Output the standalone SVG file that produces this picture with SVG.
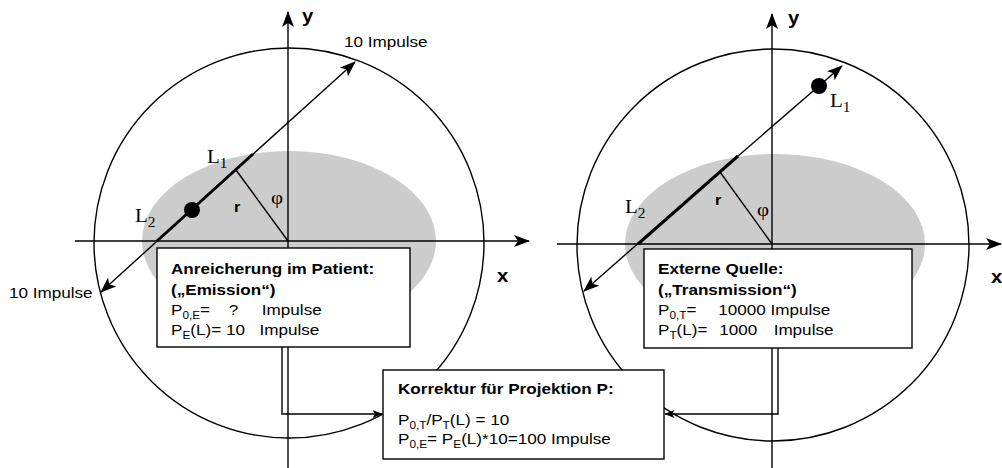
<svg xmlns="http://www.w3.org/2000/svg" width="1002" height="468" viewBox="0 0 1002 468">
<style>
.ln{stroke:#000;stroke-width:1.4;fill:none}
.thick{stroke:#000;stroke-width:3;fill:none}
.body{fill:#cccccc;stroke:none}
.box{fill:#fff;stroke:#000;stroke-width:1.4}
.t{font-family:"Liberation Sans",Arial,sans-serif;font-size:14.5px;fill:#000}
.b{font-weight:bold}
.s{font-size:10px}
.sf{font-family:"Liberation Serif","Times New Roman",serif;font-size:19px;fill:#000}
.ss{font-size:14px}
.ax{font-family:"Liberation Sans",Arial,sans-serif;font-size:18px;font-weight:bold;fill:#000}
</style>
<defs>
<marker id="ah" viewBox="0 0 16 12" refX="15" refY="6" markerWidth="16" markerHeight="12" orient="auto" markerUnits="userSpaceOnUse"><path d="M0,0 L16,6 L0,12 L4,6 z" fill="#000"/></marker>
<marker id="ahs" viewBox="0 0 10 8" refX="9.5" refY="4" markerWidth="10" markerHeight="8" orient="auto" markerUnits="userSpaceOnUse"><path d="M0,0 L10,4 L0,8 L2.5,4 z" fill="#000"/></marker>
</defs>
<rect width="1002" height="468" fill="#fff"/>

<!-- left diagram -->
<g id="left-scene">
<circle class="ln" cx="289" cy="243" r="195"/>
<ellipse class="body" cx="289" cy="241" rx="147" ry="90"/>
<line class="ln" x1="288" y1="468" x2="288" y2="12" marker-end="url(#ah)"/>
<line class="ln" x1="75" y1="241" x2="529" y2="241" marker-end="url(#ah)"/>
<text class="ax" transform="translate(302,22) scale(1.13,1)">y</text>
<text class="ax" transform="translate(497,282) scale(1.13,1)">x</text>
<line class="ln" x1="220" y1="184" x2="355" y2="62" marker-end="url(#ah)"/>
<line class="ln" x1="220" y1="184" x2="101" y2="292" marker-end="url(#ah)"/>
<line class="thick" x1="157" y1="241" x2="253" y2="154"/>
<line class="ln" x1="236" y1="170" x2="288" y2="241"/>
<circle cx="192" cy="210" r="8" fill="#000"/>
<text class="sf" transform="translate(207,163) scale(1.1,1)">L<tspan class="ss" dy="5">1</tspan></text>
<text class="sf" transform="translate(135,222) scale(1.1,1)">L<tspan class="ss" dy="5">2</tspan></text>
<text class="t b" transform="translate(234,212) scale(1.13,1)">r</text>
<text class="sf" transform="translate(271,204) scale(1.1,1)" font-size="16">φ</text>
<text class="t" transform="translate(344,47) scale(1.18,1)">10 Impulse</text>
<text class="t" transform="translate(9,298) scale(1.18,1)">10 Impulse</text>
</g>

<!-- right diagram -->
<g id="right-scene">
<circle class="ln" cx="773" cy="245" r="196"/>
<ellipse class="body" cx="775" cy="244" rx="150" ry="90"/>
<line class="ln" x1="772" y1="468" x2="772" y2="14" marker-end="url(#ah)"/>
<line class="ln" x1="557" y1="244" x2="1001" y2="244" marker-end="url(#ah)"/>
<text class="ax" transform="translate(788,24) scale(1.13,1)">y</text>
<text class="ax" transform="translate(991,283) scale(1.13,1)">x</text>
<line class="ln" x1="700" y1="189" x2="842" y2="66" marker-end="url(#ah)"/>
<line class="ln" x1="700" y1="189" x2="584" y2="291" marker-end="url(#ah)"/>
<line class="thick" x1="638" y1="244" x2="738" y2="156"/>
<line class="ln" x1="720" y1="172" x2="772" y2="244"/>
<circle cx="819" cy="86" r="8" fill="#000"/>
<text class="sf" transform="translate(830,107) scale(1.1,1)">L<tspan class="ss" dy="5">1</tspan></text>
<text class="sf" transform="translate(625,213) scale(1.1,1)">L<tspan class="ss" dy="5">2</tspan></text>
<text class="t b" transform="translate(715,205) scale(1.13,1)">r</text>
<text class="sf" transform="translate(757,216) scale(1.1,1)" font-size="16">φ</text>
</g>

<!-- nodes -->
<g id="node-emission">
<rect class="box" x="157" y="248" width="253" height="99"/>
<text class="t b" transform="translate(171,274) scale(1.18,1)">Anreicherung im Patient:</text>
<text class="t b" transform="translate(171,295) scale(1.18,1)">(„Emission“)</text>
<text class="t" transform="translate(171,315) scale(1.18,1)">P<tspan class="s" dy="4">0,E</tspan><tspan dy="-4">=</tspan><tspan x="49">?</tspan><tspan x="77">Impulse</tspan></text>
<text class="t" transform="translate(171,335) scale(1.18,1)">P<tspan class="s" dy="4">E</tspan><tspan dy="-4">(L)= 10</tspan><tspan x="75">Impulse</tspan></text>
</g>

<g id="node-transmission">
<rect class="box" x="644" y="249" width="268" height="99"/>
<text class="t b" transform="translate(658,274) scale(1.18,1)">Externe Quelle:</text>
<text class="t b" transform="translate(658,295) scale(1.18,1)">(„Transmission“)</text>
<text class="t" transform="translate(658,315) scale(1.18,1)">P<tspan class="s" dy="4">0,T</tspan><tspan dy="-4">=</tspan><tspan x="51">10000 Impulse</tspan></text>
<text class="t" transform="translate(658,335) scale(1.18,1)">P<tspan class="s" dy="4">T</tspan><tspan dy="-4">(L)=</tspan><tspan x="52">1000</tspan><tspan x="98">Impulse</tspan></text>
</g>

<g id="node-korrektur">
<rect class="box" x="383" y="370" width="281" height="89"/>
<text class="t b" transform="translate(398,394) scale(1.18,1)">Korrektur für Projektion P:</text>
<text class="t" transform="translate(398,425) scale(1.18,1)">P<tspan class="s" dy="4">0,T</tspan><tspan dy="-4">/P</tspan><tspan class="s" dy="4">T</tspan><tspan dy="-4">(L) = 10</tspan></text>
<text class="t" transform="translate(398,444) scale(1.18,1)">P<tspan class="s" dy="4">0,E</tspan><tspan dy="-4">= P</tspan><tspan class="s" dy="4">E</tspan><tspan dy="-4">(L)*10=100 Impulse</tspan></text>
</g>

<!-- connectors -->
<g id="connectors">
<polyline class="ln" points="282,347 282,414 382,414" marker-end="url(#ahs)"/>
<polyline class="ln" points="778,348 778,414 665,414" marker-end="url(#ahs)"/>
</g>
</svg>
